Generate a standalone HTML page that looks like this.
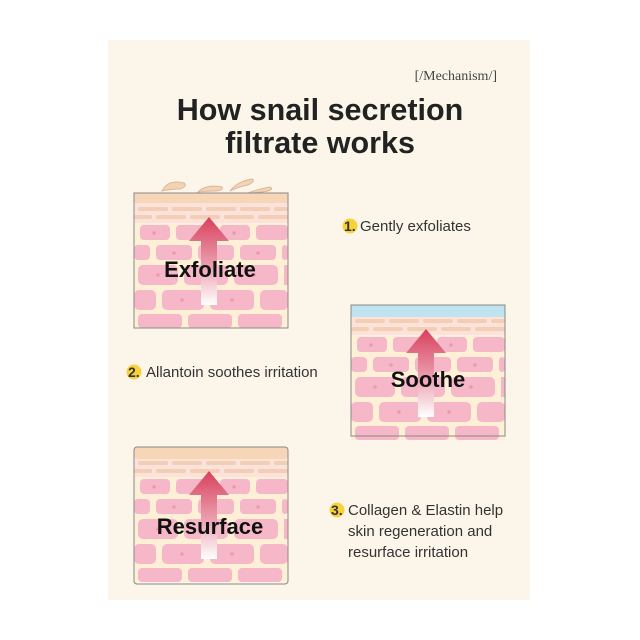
<!DOCTYPE html>
<html><head><meta charset="utf-8"><style>
body{margin:0;background:#fff;width:640px;height:640px;overflow:hidden}
svg{display:block}
</style></head><body>
<svg width="640" height="640" viewBox="0 0 640 640" xmlns="http://www.w3.org/2000/svg">
<defs>
<linearGradient id="ag" x1="0" y1="0" x2="0" y2="1">
<stop offset="0" stop-color="#d8405c"/><stop offset="0.55" stop-color="#eaa0b0"/><stop offset="1" stop-color="#ffffff"/>
</linearGradient>
<g id="skin">
<rect x="0" y="0" width="154" height="135" fill="#fdf0d6"/>
<rect x="0" y="10" width="154" height="20" fill="#fbe3dc"/>
<g fill="#f4cdb5">
<rect x="4" y="14" width="30" height="4" rx="2"/><rect x="38" y="14" width="30" height="4" rx="2"/><rect x="72" y="14" width="30" height="4" rx="2"/><rect x="106" y="14" width="30" height="4" rx="2"/><rect x="140" y="14" width="14" height="4" rx="2"/>
<rect x="0" y="22" width="18" height="4" rx="2"/><rect x="22" y="22" width="30" height="4" rx="2"/><rect x="56" y="22" width="30" height="4" rx="2"/><rect x="90" y="22" width="30" height="4" rx="2"/><rect x="124" y="22" width="30" height="4" rx="2"/>
</g>
<g fill="#f6b8c8">
<rect x="6" y="32" width="30" height="15" rx="4"/><rect x="42" y="32" width="36" height="15" rx="4"/><rect x="86" y="32" width="30" height="15" rx="4"/><rect x="122" y="32" width="32" height="15" rx="4"/>
<rect x="0" y="52" width="16" height="15" rx="4"/><rect x="22" y="52" width="36" height="15" rx="4"/><rect x="64" y="52" width="36" height="15" rx="4"/><rect x="106" y="52" width="36" height="15" rx="4"/><rect x="148" y="52" width="6" height="15" rx="3"/>
<rect x="4" y="72" width="40" height="20" rx="5"/><rect x="50" y="72" width="44" height="20" rx="5"/><rect x="100" y="72" width="44" height="20" rx="5"/><rect x="150" y="72" width="4" height="20"/>
<rect x="0" y="97" width="22" height="20" rx="5"/><rect x="28" y="97" width="42" height="20" rx="5"/><rect x="76" y="97" width="44" height="20" rx="5"/><rect x="126" y="97" width="28" height="20" rx="5"/>
<rect x="4" y="121" width="44" height="14" rx="4"/><rect x="54" y="121" width="44" height="14" rx="4"/><rect x="104" y="121" width="44" height="14" rx="4"/>
</g>
<g fill="#ee99ae"><circle cx="20" cy="40" r="1.8"/><circle cx="100" cy="40" r="1.8"/><circle cx="40" cy="60" r="1.8"/><circle cx="124" cy="60" r="1.8"/><circle cx="24" cy="82" r="1.8"/><circle cx="120" cy="82" r="1.8"/><circle cx="48" cy="107" r="1.8"/><circle cx="98" cy="107" r="1.8"/></g>
<path d="M67 112 V48 H55 L75 24 L95 48 H83 V112 Z" fill="url(#ag)"/>
</g>
</defs>
<rect x="108" y="40" width="422" height="560" fill="#fcf6ea"/>
<text x="497" y="80" text-anchor="end" font-family="Liberation Serif,serif" font-size="14" fill="#444">[/Mechanism/]</text>
<g font-family="Liberation Sans,sans-serif" font-weight="bold" font-size="30.5" fill="#222" text-anchor="middle">
<text x="320" y="120">How snail secretion</text>
<text x="320" y="153">filtrate works</text>
</g>
<g transform="translate(134,193)">
<use href="#skin"/>
<rect x="0" y="0" width="154" height="10" fill="#f7d6b8"/>
<g fill="#f4d2b4" stroke="#d9b89b" stroke-width="1">
<path d="M28 -2 q6 -12 22 -8 q4 3 -4 6 q-10 0 -18 2 Z"/>
<path d="M64 -1 q8 -8 24 -5 q2 3 -6 4 q-10 0 -18 1 Z"/>
<path d="M96 -2 q8 -10 22 -12 q4 2 -4 6 q-10 2 -18 6 Z"/>
<path d="M114 0 q10 -4 22 -6 q4 2 -2 4 q-10 2 -20 2 Z"/>
</g>
<rect x="0" y="0" width="154" height="135" fill="none" stroke="#888" stroke-width="1"/>
<text x="76" y="84" text-anchor="middle" font-family="Liberation Sans,sans-serif" font-weight="bold" font-size="22" fill="#111">Exfoliate</text>
</g>
<g transform="translate(351,305)">
<use href="#skin"/>
<rect x="0" y="0" width="154" height="12" fill="#bfe3ef"/>
<rect x="0" y="0" width="154" height="131" fill="none" stroke="#888" stroke-width="1"/>
<text x="77" y="82" text-anchor="middle" font-family="Liberation Sans,sans-serif" font-weight="bold" font-size="22" fill="#111">Soothe</text>
</g>
<g transform="translate(134,447)">
<use href="#skin"/>
<rect x="0" y="0" width="154" height="12" rx="4" fill="#f7d6b8"/>
<rect x="0" y="0" width="154" height="137" rx="3" fill="none" stroke="#888" stroke-width="1"/>
<text x="76" y="87" text-anchor="middle" font-family="Liberation Sans,sans-serif" font-weight="bold" font-size="22" fill="#111">Resurface</text>
</g>
<g font-family="Liberation Sans,sans-serif" font-size="15" fill="#333">
<circle cx="350" cy="226" r="7.5" fill="#f7d23a"/><text x="344" y="231" font-weight="bold" font-size="14">1.</text><text x="360" y="231">Gently exfoliates</text>
<circle cx="134" cy="372" r="7.5" fill="#f7d23a"/><text x="128" y="377" font-weight="bold" font-size="14">2.</text><text x="146" y="377">Allantoin soothes irritation</text>
<circle cx="337" cy="510" r="7.5" fill="#f7d23a"/><text x="331" y="515" font-weight="bold" font-size="14">3.</text><text x="348" y="515">Collagen &amp; Elastin help</text>
<text x="348" y="536">skin regeneration and</text>
<text x="348" y="557">resurface irritation</text>
</g>
</svg>
</body></html>
